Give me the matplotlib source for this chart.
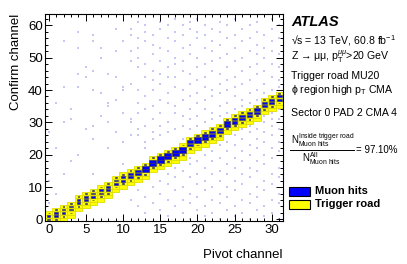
import matplotlib
matplotlib.use("Agg")
import matplotlib.pyplot as plt
from matplotlib.patches import Rectangle
from matplotlib.lines import Line2D
from matplotlib.ticker import MultipleLocator

plt.rcParams['font.family'] = ['Liberation Sans', 'DejaVu Sans']
plt.rcParams['mathtext.fontset'] = 'custom'
plt.rcParams['mathtext.rm'] = 'Liberation Sans'
plt.rcParams['mathtext.it'] = 'Liberation Sans:italic'
plt.rcParams['mathtext.bf'] = 'Liberation Sans:bold'

# pivot channel 0..31, lowest confirm channel of the trigger road (road is 5 channels tall)
pivot = list(range(32))
road_lo = [-2, -1, 0, 1, 3, 4, 5, 6, 7, 9, 10, 11, 12, 13, 15, 16,
           17, 18, 19, 21, 22, 23, 24, 25, 27, 28, 29, 30, 31, 33, 34, 35]
road_len = 5

# muon hits: two central road channels (main), and the neighbouring channels (side)
hits_main = [45, 45, 48, 50, 50, 50, 52, 52, 55, 55, 60, 68, 80, 88, 95, 100,
             95, 92, 90, 85, 85, 80, 78, 76, 75, 75, 72, 70, 70, 66, 65, 62]
hits_side = [22, 22, 22, 24, 24, 24, 24, 24, 25, 25, 26, 26, 28, 28, 30, 30,
             30, 30, 28, 28, 28, 28, 26, 26, 26, 26, 26, 26, 26, 25, 25, 25]

# isolated hits outside the road (confirm channels per pivot channel)
noise_y = [
    [5, 12, 27],
    [8, 22, 36],
    [14, 30, 41, 55],
    [18, 31, 34],
    [20, 41, 45, 53, 58],
    [28, 44, 47],
    [14, 25, 29, 40, 46, 55, 57],
    [32, 39, 50, 53],
    [22, 30, 35, 36, 45],
    [10, 27, 37, 44, 52, 59],
    [17, 24, 33, 40, 41, 55],
    [6, 26, 30, 31, 42, 49, 52, 57, 59],
    [4, 9, 26, 28, 33, 36, 40, 47, 50, 53, 56, 61],
    [2, 7, 22, 24, 29, 34, 38, 44, 48, 55, 58, 60],
    [5, 10, 25, 27, 31, 35, 40, 43, 46, 51, 54, 57],
    [3, 8, 12, 26, 29, 33, 37, 42, 45, 49, 53, 59, 61],
    [1, 6, 11, 14, 27, 30, 36, 39, 44, 47, 52, 56, 60],
    [4, 9, 13, 16, 28, 33, 35, 41, 44, 48, 50, 55, 58, 62],
    [2, 6, 10, 15, 25, 29, 32, 37, 40, 46, 49, 53, 57, 60],
    [0, 5, 8, 13, 17, 19, 28, 31, 34, 38, 42, 45, 51, 54, 59, 61],
    [3, 7, 11, 14, 18, 29, 32, 36, 39, 43, 47, 50, 56, 58, 62],
    [1, 4, 9, 12, 16, 20, 30, 34, 37, 41, 44, 48, 53, 57, 60],
    [2, 6, 10, 14, 18, 21, 31, 33, 38, 40, 46, 49, 52, 55, 59],
    [0, 5, 8, 12, 15, 19, 23, 32, 35, 39, 42, 45, 50, 54, 58, 61],
    [3, 7, 10, 14, 17, 21, 24, 33, 36, 40, 43, 47, 51, 56, 60],
    [1, 4, 9, 12, 16, 19, 23, 26, 34, 38, 41, 44, 49, 53, 57, 62],
    [2, 6, 11, 14, 18, 21, 25, 28, 35, 37, 42, 46, 50, 55, 59],
    [0, 5, 8, 13, 16, 20, 23, 27, 29, 36, 39, 43, 47, 52, 56, 60],
    [3, 7, 10, 15, 18, 22, 25, 28, 37, 40, 45, 48, 51, 54, 58, 61],
    [1, 4, 9, 12, 17, 20, 24, 27, 30, 32, 39, 42, 46, 50, 53, 57],
    [2, 6, 11, 14, 19, 22, 26, 29, 31, 33, 40, 44, 48, 52, 55, 59, 62],
    [0, 5, 8, 13, 16, 21, 24, 28, 31, 34, 41, 43, 47, 51, 56, 60],
]

W, H = 407, 264
fig = plt.figure(figsize=(W / 100, H / 100), dpi=100)
ax = fig.add_axes([45 / W, 1 - 221 / H, (283 - 45) / W, (221 - 14) / H])
ax.set_xlim(-0.5, 31.5)
ax.set_ylim(-0.5, 63.5)

# trigger road
for x, lo in zip(pivot, road_lo):
    for y in range(lo, lo + road_len):
        ax.add_patch(Rectangle((x - 0.5, y - 0.5), 1, 1, facecolor='#ffff00',
                               edgecolor='#dede00', linewidth=0.6, zorder=2))

# isolated hits
nx, ny = [], []
for x, ys in zip(pivot, noise_y):
    nx += [x] * len(ys)
    ny += ys
ax.scatter(nx, ny, marker='s', s=1.4, color='#9a9aec', alpha=0.55, linewidths=0, zorder=1)

# muon hits inside the road
hmax = max(hits_main)
for x, lo, m, s in zip(pivot, road_lo, hits_main, hits_side):
    for y, c in ((lo + 1, s), (lo + 2, m), (lo + 3, m), (lo + 4, s)):
        f = c / hmax
        ax.add_patch(Rectangle((x - f / 2, y - f / 2), f, f, facecolor='#0000ff',
                               edgecolor='#303060', linewidth=0.4, zorder=3))

ax.xaxis.set_major_locator(MultipleLocator(5))
ax.xaxis.set_minor_locator(MultipleLocator(1))
ax.yaxis.set_major_locator(MultipleLocator(10))
ax.yaxis.set_minor_locator(MultipleLocator(2))
ax.tick_params(which='both', direction='in', top=True, right=True, labelsize=9.5)
ax.tick_params(which='major', length=5, width=0.7)
ax.tick_params(which='minor', length=2.5, width=0.7)
ax.tick_params(axis='x', pad=2.5)
ax.tick_params(axis='y', pad=1.5)
for sp in ax.spines.values():
    sp.set_linewidth(0.8)

ax.set_xlabel('Pivot channel', fontsize=9.5, loc='right', labelpad=9)
ax.set_ylabel('Confirm channel', fontsize=9.5, loc='top', labelpad=4)


def px(x, y):
    return x / W, 1 - y / H


fig.text(*px(291, 22), 'ATLAS', fontsize=10.5, fontweight='bold', style='italic', va='center')
fs = 7.6
fig.text(*px(291, 41), '\u221as = 13 TeV, 60.8 fb$^{-1}$', fontsize=fs, va='center')
fig.text(*px(291, 57), 'Z \u2192 \u03bc\u03bc, p$_{\\mathregular{T}}^{\\mu\\mu}$>20 GeV', fontsize=fs, va='center')
fig.text(*px(291, 76), 'Trigger road MU20', fontsize=fs, va='center')
fig.text(*px(291, 90), '\u03d5 region high p$_{\\mathregular{T}}$ CMA', fontsize=fs, va='center')
fig.text(*px(291, 113), 'Sector 0 PAD 2 CMA 4', fontsize=fs, va='center')

fig.text(*px(291, 140), r'$\mathregular{N^{Inside\ trigger\ road}_{Muon\ hits}}$', fontsize=7, va='center')
fig.add_artist(Line2D([290 / W, 354 / W], [1 - 149.5 / H] * 2, color='black', lw=0.7,
                      transform=fig.transFigure))
fig.text(*px(302, 159), r'$\mathregular{N^{All}_{Muon\ hits}}$', fontsize=7, va='center')
fig.text(*px(356, 150), '= 97.10%', fontsize=7, va='center')

fig.add_artist(Rectangle(px(289, 196), 21 / W, 9 / H, facecolor='#0000ff', edgecolor='black',
                         linewidth=0.8, transform=fig.transFigure))
fig.add_artist(Rectangle(px(289, 209), 21 / W, 9 / H, facecolor='#ffff00', edgecolor='black',
                         linewidth=0.8, transform=fig.transFigure))
fig.text(*px(315, 191), 'Muon hits', fontsize=8, fontweight='bold', va='center')
fig.text(*px(315, 204), 'Trigger road', fontsize=8, fontweight='bold', va='center')

fig.savefig('out.png', dpi=100)
